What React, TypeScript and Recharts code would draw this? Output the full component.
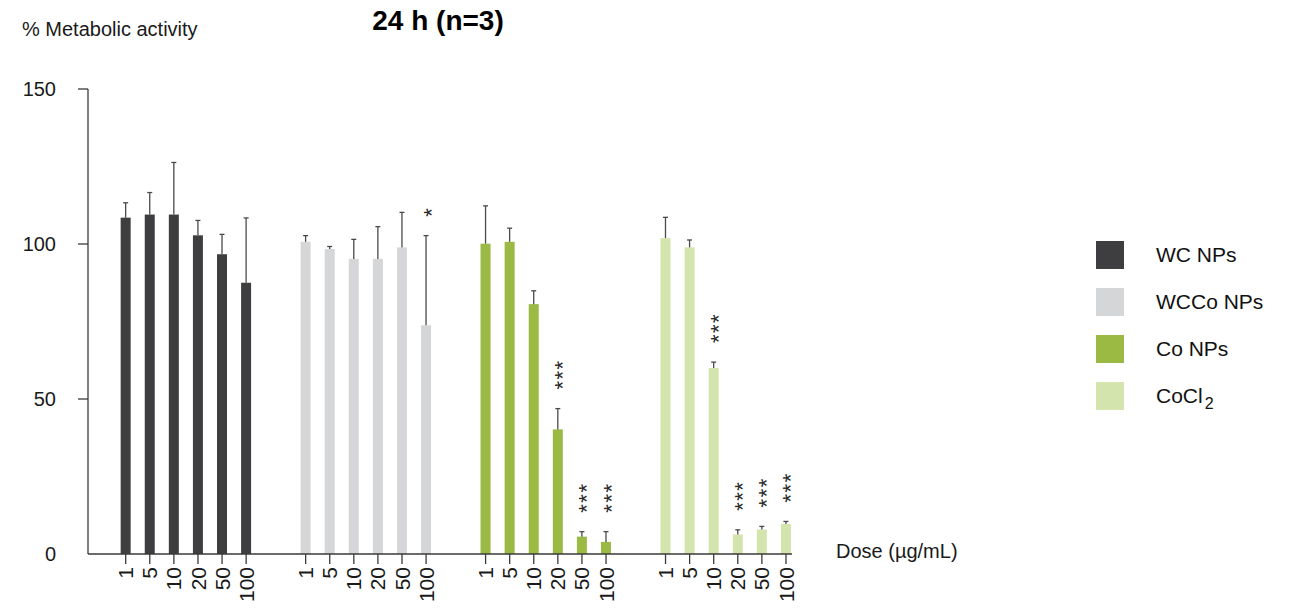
import React from 'react';
import { BarChart, Bar, XAxis, YAxis } from 'recharts';

// ---------- data ----------
const doses = ['1', '5', '10', '20', '50', '100'];
const seriesNames = ['WC NPs', 'WCCo NPs', 'Co NPs', 'CoCl2'];

const wcValues = [108.5, 109.5, 109.5, 102.8, 96.7, 87.5];
const wcErrors = [4.8, 7.1, 16.8, 4.8, 6.4, 20.9];
const wcSig = ['', '', '', '', '', ''];

const wccoValues = [100.7, 98.4, 95.2, 95.2, 98.9, 73.8];
const wccoErrors = [2.0, 0.8, 6.3, 10.4, 11.3, 28.9];
const wccoSig = ['', '', '', '', '', '*'];

const coValues = [100.1, 100.7, 80.6, 40.2, 5.6, 3.9];
const coErrors = [12.2, 4.4, 4.3, 6.7, 1.6, 3.3];
const coSig = ['', '', '', '***', '***', '***'];

const coclValues = [101.9, 98.9, 60.0, 6.3, 7.9, 9.7];
const coclErrors = [6.7, 2.4, 1.9, 1.5, 1.0, 0.8];
const coclSig = ['', '', '***', '***', '***', '***'];

const yTicks = [0, 50, 100, 150];

// ---------- styles / layout ----------
const COLORS = ['#3e3e40', '#d5d6d8', '#9aba44', '#d3e4ac'];
const AXIS_COLOR = '#3a3a3a';
const ERR_COLOR = '#4a4a4a';
const FONT = '"Liberation Sans", Arial, Helvetica, sans-serif';
const GROUP_STRIDE = 7.47;
const X_MIN = -1.565;
const X_MAX = 27.66;

const allValues = [wcValues, wccoValues, coValues, coclValues];
const allErrors = [wcErrors, wccoErrors, coErrors, coclErrors];
const allSig = [wcSig, wccoSig, coSig, coclSig];

type Row = { x: number; value: number; err: number; sig: string; series: number; dose: string };

const rows: Row[] = [];
allValues.forEach((vals, g) => {
  vals.forEach((v, i) => {
    rows.push({
      x: g * GROUP_STRIDE + i,
      value: v,
      err: allErrors[g][i],
      sig: allSig[g][i],
      series: g,
      dose: doses[i],
    });
  });
});
const tickPositions = rows.map((r) => r.x);

function XTick(props: any) {
  const { x, y, payload } = props;
  const row = rows.find((r) => Math.abs(r.x - payload.value) < 1e-6);
  const label = row ? row.dose : '';
  const ty = y + 13;
  return (
    <g>
      <line x1={x} x2={x} y1={y} y2={y + 10} stroke={AXIS_COLOR} strokeWidth={1.3} />
      <text
        x={x}
        y={ty}
        transform={`rotate(-90, ${x}, ${ty})`}
        textAnchor="end"
        dy="0.36em"
        fontSize={21}
        fontFamily={FONT}
        fill="#1a1a1a"
      >
        {label}
      </text>
    </g>
  );
}

function YTick(props: any) {
  const { x, y, payload } = props;
  return (
    <g>
      {payload.value !== 0 && (
        <line x1={x - 10} x2={x} y1={y} y2={y} stroke={AXIS_COLOR} strokeWidth={1.3} />
      )}
      <text x={x - 32} y={y} dy="0.36em" textAnchor="end" fontSize={20} fontFamily={FONT} fill="#1a1a1a">
        {payload.value}
      </text>
    </g>
  );
}

function BarShape(props: any) {
  const { x, y, width, height, payload } = props;
  const fill = COLORS[payload.series];
  const pxPerUnit = payload.value > 0 ? height / payload.value : 0;
  const errTop = y - payload.err * pxPerUnit;
  const cx = x + width / 2;
  const sy = errTop - 19;
  return (
    <g>
      <rect x={x} y={y} width={width} height={height} fill={fill} />
      <line x1={cx} x2={cx} y1={y} y2={errTop} stroke={ERR_COLOR} strokeWidth={1.3} />
      <line x1={cx - 2.5} x2={cx + 2.5} y1={errTop} y2={errTop} stroke={ERR_COLOR} strokeWidth={1.3} />
      {payload.sig && (
        <text
          x={cx}
          y={sy}
          transform={`rotate(-90, ${cx}, ${sy})`}
          textAnchor="start"
          dy="0.57em"
          fontSize={22}
          letterSpacing={1.5}
          fontFamily={FONT}
          fill="#2a2a2a"
        >
          {payload.sig}
        </text>
      )}
    </g>
  );
}

function LegendBox() {
  return (
    <div
      style={{
        position: 'absolute',
        left: 1096,
        top: 241,
        fontFamily: FONT,
        fontSize: 21,
        color: '#111',
        zIndex: 2,
      }}
    >
      {seriesNames.map((name, i) => (
        <div key={name} style={{ display: 'flex', alignItems: 'center', height: 28, marginBottom: 19 }}>
          <div style={{ width: 28, height: 28, background: COLORS[i], marginRight: 32 }} />
          {name === 'CoCl2' ? (
            <span>
              CoCl<span style={{ fontSize: 16, position: 'relative', top: 6, marginLeft: 2 }}>2</span>
            </span>
          ) : (
            <span>{name}</span>
          )}
        </div>
      ))}
    </div>
  );
}

export default function App() {
  return (
    <div style={{ position: 'absolute', left: 0, top: 0, width: 1300, height: 610, background: '#fff' }}>
      <div
        style={{
          position: 'absolute',
          left: 288,
          top: 7,
          width: 300,
          textAlign: 'center',
          fontFamily: FONT,
          fontWeight: 'bold',
          fontSize: 28,
          lineHeight: '28px',
          color: '#000',
          zIndex: 2,
        }}
      >
        24 h (n=3)
      </div>
      <div
        style={{
          position: 'absolute',
          left: 22,
          top: 19,
          fontFamily: FONT,
          fontSize: 20,
          lineHeight: '20px',
          color: '#1a1a1a',
          whiteSpace: 'nowrap',
          zIndex: 2,
        }}
      >
        % Metabolic activity
      </div>
      <div
        style={{
          position: 'absolute',
          left: 836,
          top: 541,
          fontFamily: FONT,
          fontSize: 20,
          lineHeight: '20px',
          color: '#1a1a1a',
          whiteSpace: 'nowrap',
          zIndex: 2,
        }}
      >
        Dose (µg/mL)
      </div>
      <LegendBox />
      <BarChart
        width={1300}
        height={610}
        data={rows}
        margin={{ top: 89, right: 508, bottom: 0, left: 0 }}
      >
        <XAxis
          dataKey="x"
          type="number"
          domain={[X_MIN, X_MAX]}
          allowDataOverflow
          ticks={tickPositions}
          interval={0}
          height={56}
          tickSize={0}
          tickMargin={0}
          tick={<XTick />}
          tickLine={false}
          axisLine={{ stroke: AXIS_COLOR, strokeWidth: 1.3 }}
        />
        <YAxis
          type="number"
          domain={[0, 150]}
          ticks={yTicks}
          interval={0}
          width={88}
          tickSize={0}
          tickMargin={0}
          tick={<YTick />}
          tickLine={false}
          axisLine={{ stroke: AXIS_COLOR, strokeWidth: 1.3 }}
        />
        <Bar dataKey="value" barSize={10} shape={<BarShape />} isAnimationActive={false} />
      </BarChart>
    </div>
  );
}
